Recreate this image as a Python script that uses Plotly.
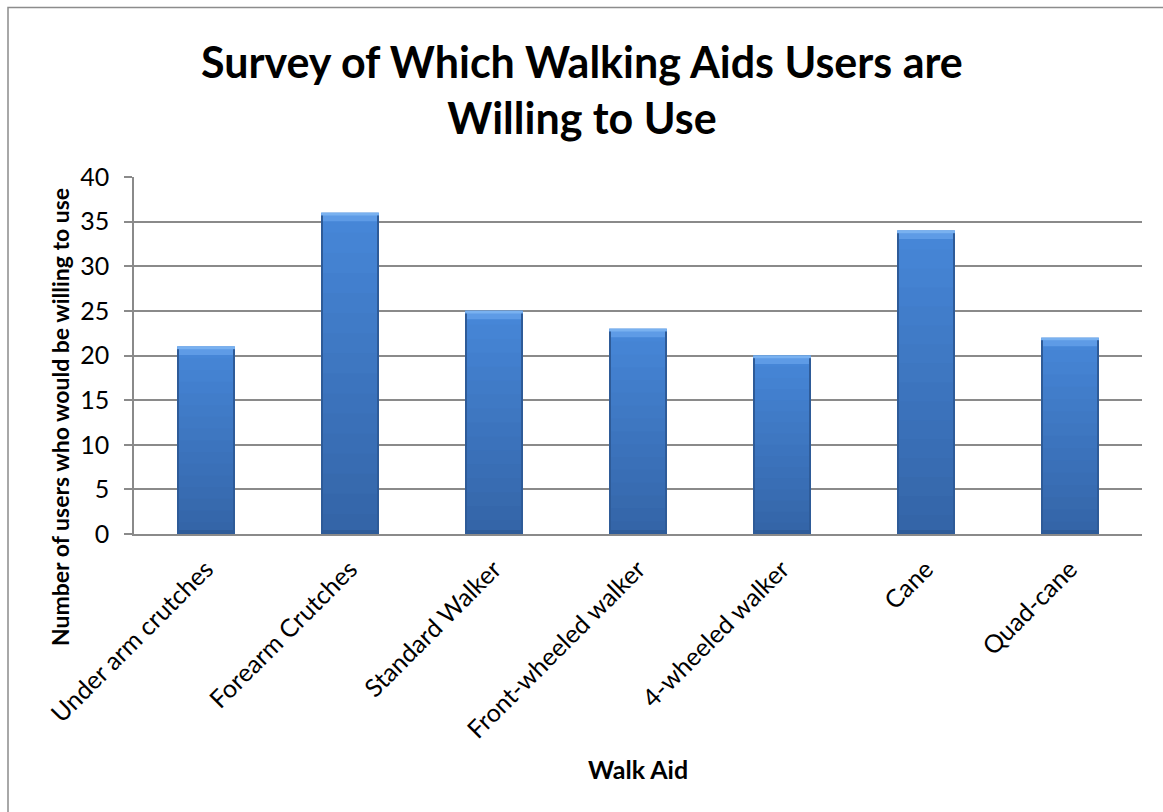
import plotly.graph_objects as go

# Survey responses: how many users would be willing to use each walking aid
aids = ["Under arm crutches", "Forearm Crutches", "Standard Walker",
        "Front-wheeled walker", "4-wheeled walker", "Cane", "Quad-cane"]
users = [21, 36, 25, 23, 20, 34, 22]
y_ticks = [0, 5, 10, 15, 20, 25, 30, 35, 40]

FONT = "Lato"
GRID = "#8a8a8a"
BAR_W = 0.4


def mix(c1, c2, t):
    r = [round(a + (b - a) * t) for a, b in zip(c1, c2)]
    return "rgb({},{},{})".format(*r)


fig = go.Figure()

# Body of each bar: vertical gradient built from nested bars, tallest first
TOP_C = (0x46, 0x86, 0xd7)
BOT_C = (0x33, 0x63, 0xa5)
N = 16
for k in range(N):
    f = (N - k) / N
    fig.add_bar(
        x=aids, y=[v * f for v in users], width=BAR_W,
        marker=dict(color=mix(BOT_C, TOP_C, f), line_width=0),
        hoverinfo="skip", showlegend=False,
    )

# Bevel along the top edge
fig.add_bar(
    x=aids, y=[0.95] * len(users), base=[v - 0.95 for v in users], width=BAR_W,
    marker=dict(color="#5e9be6", line_width=0), hoverinfo="skip", showlegend=False,
)
fig.add_bar(
    x=aids, y=[0.3] * len(users), base=[v - 0.3 for v in users], width=BAR_W,
    marker=dict(color="#79b1f0", line_width=0), hoverinfo="skip", showlegend=False,
)
# Darker rim along the bottom
fig.add_bar(
    x=aids, y=[0.45] * len(users), width=BAR_W,
    marker=dict(color="#2f5c99", line_width=0), hoverinfo="skip", showlegend=False,
)
# Darker side edges
EDGE = 0.012
for off in (-BAR_W / 2, BAR_W / 2 - EDGE):
    fig.add_bar(
        x=aids, y=[v - 0.3 for v in users], width=EDGE, offset=off,
        marker=dict(color="#2e5b98", line_width=0), hoverinfo="skip", showlegend=False,
    )

# Outer chart border
fig.add_shape(
    type="rect", xref="paper", yref="paper",
    x0=(8 - 134) / 1008, x1=1.2, y0=-1.0, y1=(534 - 7.5) / 357,
    line=dict(color="#8c8c8c", width=1.5), fillcolor="rgba(0,0,0,0)", layer="below",
)

# Chart title
fig.add_annotation(
    text="<b>Survey of Which Walking Aids Users are<br>Willing to Use</b>",
    xref="paper", yref="paper", x=(581.5 - 134) / 1008, y=(534 - 90) / 357,
    showarrow=False, xanchor="center", yanchor="middle", align="center",
    font=dict(family=FONT, size=43, color="black"),
)
# Axis titles
fig.add_annotation(
    text="<b>Number of users who would be willing to use</b>",
    xref="paper", yref="paper", x=(60 - 134) / 1008, y=(534 - 417) / 357,
    textangle=-90, showarrow=False, xanchor="center", yanchor="middle",
    font=dict(family=FONT, size=23, color="black"),
)
fig.add_annotation(
    text="<b>Walk Aid</b>",
    xref="paper", yref="paper", x=0.5, y=(534 - 769) / 357,
    showarrow=False, xanchor="center", yanchor="middle",
    font=dict(family=FONT, size=25, color="black"),
)

fig.update_layout(
    width=1163, height=812,
    margin=dict(l=134, r=21, t=177, b=278),
    paper_bgcolor="white", plot_bgcolor="white",
    barmode="overlay", bargap=0.6,
    font=dict(family=FONT, color="black"),
)
fig.update_yaxes(
    range=[0, 40], tickvals=y_ticks, ticktext=[str(t) for t in y_ticks],
    showgrid=True, gridcolor=GRID, gridwidth=1.5,
    showline=True, linecolor=GRID, linewidth=1.5,
    ticks="outside", ticklen=8, tickcolor=GRID, tickwidth=1.5,
    ticklabelstandoff=10, zeroline=False,
    tickfont=dict(family=FONT, size=25, color="black"),
)
fig.update_xaxes(
    showgrid=False, showline=True, linecolor=GRID, linewidth=1.5,
    tickangle=-45, ticks="", ticklabelstandoff=9,
    tickfont=dict(family=FONT, size=25, color="black"),
)

fig.write_html("out.html")
